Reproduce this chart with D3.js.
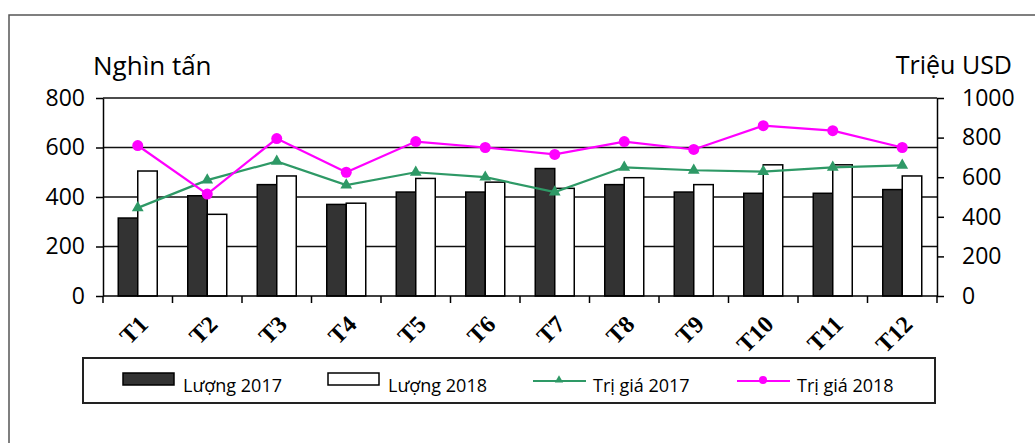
<!DOCTYPE html>
<html>
<head>
<meta charset="utf-8">
<script src="https://cdn.jsdelivr.net/npm/d3@7"></script>
<style>
  body { margin: 0; background: #fff; }
  svg { display: block; font-family: "Open Sans", sans-serif; }
</style>
</head>
<body>
<div id="chart"></div>
<script>
// data
var months = ["T1","T2","T3","T4","T5","T6","T7","T8","T9","T10","T11","T12"];
var luong2017 = [315, 405, 450, 370, 420, 420, 515, 450, 420, 415, 415, 430];
var luong2018 = [505, 330, 485, 375, 475, 460, 435, 478, 450, 530, 530, 485];
var trigia2017 = [445, 585, 680, 560, 625, 600, 525, 650, 635, 628, 650, 660];
var trigia2018 = [760, 515, 795, 625, 780, 750, 715, 780, 740, 860, 835, 750];
var leftTicks = [0, 200, 400, 600, 800];
var rightTicks = [0, 200, 400, 600, 800, 1000];

var W = 1035, H = 443;
var plot = {left: 103, right: 937, top: 98, bottom: 296};

var svg = d3.select("#chart").append("svg")
    .attr("width", W).attr("height", H);

// outer frame
svg.append("rect")
    .attr("x", 9).attr("y", 15)
    .attr("width", W).attr("height", H)
    .attr("fill", "none").attr("stroke", "#555").attr("stroke-width", 1.5);

var x = d3.scaleBand().domain(months).range([plot.left, plot.right]).padding(0);
var xs = d3.scaleBand().domain(["a", "b"]).range([0, 39]);
var yL = d3.scaleLinear().domain([0, 800]).range([plot.bottom, plot.top]);
var yR = d3.scaleLinear().domain([0, 1000]).range([plot.bottom, plot.top]);

// gridlines
svg.append("g").selectAll("line")
    .data(leftTicks.filter(function(d){ return d > 0; }))
    .enter().append("line")
    .attr("x1", plot.left).attr("x2", plot.right)
    .attr("y1", function(d){ return yL(d); })
    .attr("y2", function(d){ return yL(d); })
    .attr("stroke", "#111").attr("stroke-width", 1.5);

// bars
var groups = svg.append("g").selectAll("g")
    .data(months).enter().append("g")
    .attr("transform", function(d){ return "translate(" + (x(d) + x.bandwidth()/2 - 19.5) + ",0)"; });

groups.append("rect")
    .attr("x", xs("a")).attr("width", xs.bandwidth())
    .attr("y", function(d, i){ return yL(luong2017[i]); })
    .attr("height", function(d, i){ return yL(0) - yL(luong2017[i]); })
    .attr("fill", "#333").attr("stroke", "#000").attr("stroke-width", 1.5);

groups.append("rect")
    .attr("x", xs("b")).attr("width", xs.bandwidth())
    .attr("y", function(d, i){ return yL(luong2018[i]); })
    .attr("height", function(d, i){ return yL(0) - yL(luong2018[i]); })
    .attr("fill", "#fff").attr("stroke", "#000").attr("stroke-width", 1.5);

// axes
var axL = svg.append("g")
    .attr("transform", "translate(" + plot.left + ",0)")
    .call(d3.axisLeft(yL).tickValues(leftTicks).tickFormat(d3.format("d"))
        .tickSize(7).tickPadding(11).tickSizeOuter(0));
var axR = svg.append("g")
    .attr("transform", "translate(" + plot.right + ",0)")
    .call(d3.axisRight(yR).tickValues(rightTicks).tickFormat(d3.format("d"))
        .tickSize(7).tickPadding(18).tickSizeOuter(0));
[axL, axR].forEach(function(a){
  a.selectAll("text").style("font-size", "23px").style("font-family", "'Open Sans', sans-serif").attr("fill", "#000");
  a.selectAll("line, path").attr("stroke", "#000").attr("stroke-width", 1.5);
});

// x axis: ticks at category boundaries
var axB = svg.append("g");
axB.append("line")
    .attr("x1", plot.left).attr("x2", plot.right)
    .attr("y1", plot.bottom).attr("y2", plot.bottom)
    .attr("stroke", "#000").attr("stroke-width", 1.5);
axB.selectAll("line.tk")
    .data(months.concat(["end"])).enter().append("line")
    .attr("class", "tk")
    .attr("x1", function(d){ return d == "end" ? plot.right : x(d); })
    .attr("x2", function(d){ return d == "end" ? plot.right : x(d); })
    .attr("y1", plot.bottom).attr("y2", plot.bottom + 7)
    .attr("stroke", "#000").attr("stroke-width", 1.5);
axB.selectAll("text")
    .data(months).enter().append("text")
    .attr("transform", function(d){ return "translate(" + (x(d) + x.bandwidth()/2 + 6) + "," + (plot.bottom + 24) + ") rotate(-45)"; })
    .attr("text-anchor", "end")
    .attr("dominant-baseline", "central")
    .style("font-family", "'Liberation Serif', 'Times New Roman', serif")
    .style("font-weight", "bold")
    .style("font-size", "24px")
    .text(function(d){ return d; });

// lines
var cx = function(d, i){ return x(months[i]) + x.bandwidth()/2; };
var valueLine = d3.line().x(cx).y(function(d){ return yR(d); });
svg.append("path").datum(trigia2017)
    .attr("d", valueLine).attr("fill", "none")
    .attr("stroke", "#2e9966").attr("stroke-width", 2.2);
svg.append("g").selectAll("path")
    .data(trigia2017).enter().append("path")
    .attr("d", d3.symbol().type(d3.symbolTriangle).size(60))
    .attr("transform", function(d, i){ return "translate(" + cx(d, i) + "," + yR(d) + ")"; })
    .attr("fill", "#2e9966");

svg.append("path").datum(trigia2018)
    .attr("d", valueLine).attr("fill", "none")
    .attr("stroke", "#ff00ff").attr("stroke-width", 2.2);
svg.append("g").selectAll("circle")
    .data(trigia2018).enter().append("circle")
    .attr("cx", cx).attr("cy", function(d){ return yR(d); })
    .attr("r", 5.5).attr("fill", "#ff00ff");

// axis titles
svg.append("text").attr("x", 93).attr("y", 75)
    .style("font-size", "26px").text("Nghìn tấn");
svg.append("text").attr("x", 1012).attr("y", 74)
    .attr("text-anchor", "end")
    .style("font-size", "25px").text("Triệu USD");

// legend
var legend = svg.append("g");
legend.append("rect")
    .attr("x", 83).attr("y", 358).attr("width", 852).attr("height", 45)
    .attr("fill", "#fff").attr("stroke", "#222").attr("stroke-width", 2);

var legendItems = [
  {label: "Lượng 2017", type: "bar", fill: "#333", x: 123},
  {label: "Lượng 2018", type: "bar", fill: "#fff", x: 328},
  {label: "Trị giá 2017", type: "tri", color: "#2e9966", x: 533},
  {label: "Trị giá 2018", type: "dot", color: "#ff00ff", x: 737}
];
legendItems.forEach(function(it){
  if (it.type == "bar") {
    legend.append("rect").attr("x", it.x).attr("y", 373).attr("width", 51).attr("height", 12)
        .attr("fill", it.fill).attr("stroke", "#000").attr("stroke-width", 1.5);
  } else {
    legend.append("line").attr("x1", it.x).attr("x2", it.x + 53).attr("y1", 381).attr("y2", 381)
        .attr("stroke", it.color).attr("stroke-width", 2);
    if (it.type == "tri") {
      legend.append("path").attr("d", d3.symbol().type(d3.symbolTriangle).size(30))
          .attr("transform", "translate(" + (it.x + 26) + ",380)").attr("fill", it.color);
    } else {
      legend.append("circle").attr("cx", it.x + 26).attr("cy", 380).attr("r", 4).attr("fill", it.color);
    }
  }
  legend.append("text").attr("x", it.x + 60).attr("y", 392)
      .style("font-size", "18px").text(it.label);
});
</script>
</body>
</html>
